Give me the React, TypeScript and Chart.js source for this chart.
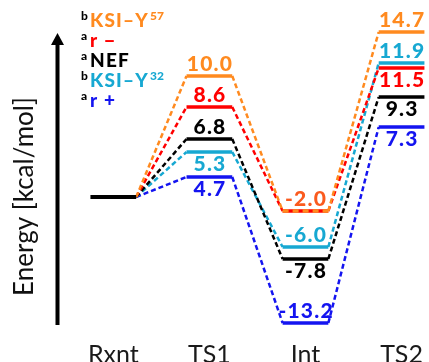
import React, { useEffect, useRef } from "react";
import { Chart, registerables } from "chart.js";

Chart.register(...registerables);

// ---- data ----
const states = ["Rxnt", "TS1", "Int", "TS2"];

const legendNames = ["KSI–Y", "r −", "NEF", "KSI–Y", "r +"];
const legendSupAfter = ["57", "", "", "32", ""];
const legendNote = ["b", "a", "a", "b", "a"];
const seriesColors = ["#FF8A1F", "#FF0000", "#000000", "#17A8D2", "#1414F0"];

// energies (kcal/mol) at TS1, Int, TS2 (Rxnt = 0)
const energyKsiY57 = [10.0, -2.0, 14.7];
const energyRMinus = [8.6, -2.0, 11.5];
const energyNef = [6.8, -7.8, 9.3];
const energyKsiY32 = [5.3, -6.0, 11.9];
const energyRPlus = [4.7, -13.2, 7.3];

// drawn level heights (schematic diagram units, Rxnt = 0)
const levelKsiY57 = [121, -14, 165];
const levelRMinus = [90, -14, 129];
const levelNef = [58, -62, 100];
const levelKsiY32 = [45, -50, 134];
const levelRPlus = [20, -126, 70];

// where each value label sits relative to its level
const sideKsiY57 = ["above", "above", "above"];
const sideRMinus = ["above", "none", "below"];
const sideNef = ["above", "below", "below"];
const sideKsiY32 = ["below", "above", "above"];
const sideRPlus = ["below", "above", "below"];

const axisTitle = "Energy [kcal/mol]";
const sharedLabelColor = "#FA5A1E";

const energies = [energyKsiY57, energyRMinus, energyNef, energyKsiY32, energyRPlus];
const levels = [levelKsiY57, levelRMinus, levelNef, levelKsiY32, levelRPlus];
const sides = [sideKsiY57, sideRMinus, sideNef, sideKsiY32, sideRPlus];

const HALF = 0.238;

function seriesPoints(lv: number[]) {
  const pts: { x: number; y: number }[] = [{ x: HALF, y: 0 }];
  lv.forEach((v, j) => {
    pts.push({ x: j + 1 - HALF, y: v });
    pts.push({ x: j + 1 + HALF, y: v });
  });
  return pts;
}

function sharesLevelBelow(si: number, j: number) {
  for (let t = si + 1; t < levels.length; t++) {
    if (levels[t][j] === levels[si][j]) return true;
  }
  return false;
}

const overlayPlugin = {
  id: "overlay",
  afterDraw(chart: any) {
    const ctx: any = chart.ctx;
    const xs = chart.scales.x;
    const ys = chart.scales.y;
    ctx.save();

    // value labels
    const ls = 1.2;
    ctx.font = "900 21px Lato";
    ctx.letterSpacing = ls + "px";
    ctx.textAlign = "center";
    ctx.textBaseline = "alphabetic";
    energies.forEach((en, si) => {
      en.forEach((e, j) => {
        const side = sides[si][j];
        if (side === "none") return;
        const px = xs.getPixelForValue(j + 1) + ls / 2;
        const py = ys.getPixelForValue(levels[si][j]);
        const y = side === "above" ? py - 5 : py + 19;
        const shared = energies.some((o, t) => t !== si && o[j] === e);
        ctx.fillStyle = shared ? sharedLabelColor : seriesColors[si];
        ctx.fillText(e.toFixed(1), px, y);
      });
    });
    ctx.letterSpacing = "0px";

    // axis arrow
    const ax = 57.5;
    const yTop = 33;
    const yBot = 325;
    ctx.fillStyle = "#000";
    ctx.fillRect(ax - 2, yTop + 10, 4, yBot - yTop - 10);
    ctx.beginPath();
    ctx.moveTo(ax, yTop);
    ctx.lineTo(ax - 6.5, yTop + 12);
    ctx.lineTo(ax + 6.5, yTop + 12);
    ctx.closePath();
    ctx.fill();

    // axis title
    ctx.save();
    ctx.translate(33, 196.5);
    ctx.rotate(-Math.PI / 2);
    ctx.font = "26px Lato";
    ctx.fillStyle = "#111";
    ctx.textAlign = "center";
    ctx.textBaseline = "alphabetic";
    ctx.fillText(axisTitle, 0, 0);
    ctx.restore();

    // legend
    ctx.textAlign = "left";
    const baseX = 90;
    legendNames.forEach((name, i) => {
      const by = 27 + i * 20;
      ctx.font = "900 12px Lato";
      ctx.fillStyle = "#000";
      ctx.fillText(legendNote[i], 81, by - 7);
      ctx.font = "900 19px Lato";
      ctx.letterSpacing = "1.2px";
      ctx.fillStyle = seriesColors[i];
      ctx.fillText(name, baseX, by);
      const w = ctx.measureText(name).width;
      ctx.letterSpacing = "0px";
      if (legendSupAfter[i]) {
        ctx.font = "900 12px Lato";
        ctx.fillText(legendSupAfter[i], baseX + w + 1, by - 7);
      }
    });

    ctx.restore();
  },
};

export default function App() {
  const ref = useRef<HTMLCanvasElement | null>(null);

  useEffect(() => {
    document.body.style.margin = "0";
    if (!ref.current) return;

    const datasets: any[] = [
      {
        label: "Rxnt",
        data: [
          { x: -HALF, y: 0 },
          { x: HALF, y: 0 },
        ],
        borderColor: "#000",
        borderWidth: 4,
        pointRadius: 0,
        borderCapStyle: "butt",
        clip: false,
      },
    ];

    levels.forEach((lv, si) => {
      datasets.push({
        label: legendNames[si] + legendSupAfter[si],
        data: seriesPoints(lv),
        borderColor: seriesColors[si],
        borderWidth: 3.5,
        pointRadius: 0,
        borderCapStyle: "butt",
        clip: false,
        segment: {
          borderDash: (c: any) => {
            if (c.p0DataIndex % 2 === 0) return [5, 3];
            const j = (c.p0DataIndex - 1) / 2;
            return sharesLevelBelow(si, j) ? [6, 4] : [];
          },
          borderWidth: (c: any) => (c.p0DataIndex % 2 === 0 ? 2.5 : 3.5),
        },
      });
    });

    const chart = new Chart(ref.current, {
      type: "line",
      data: { datasets },
      options: {
        responsive: false,
        animation: false,
        events: [],
        layout: { padding: { left: 57, right: 1, top: 0, bottom: 0 } },
        plugins: { legend: { display: false }, tooltip: { enabled: false } },
        scales: {
          x: {
            type: "linear",
            min: -0.586,
            max: 3.247,
            afterBuildTicks: (axis: any) => {
              axis.ticks = states.map((_, i) => ({ value: i }));
            },
            afterFit: (axis: any) => {
              axis.height = 28;
            },
            grid: { display: false, drawTicks: false },
            border: { display: false },
            ticks: {
              autoSkip: false,
              maxRotation: 0,
              padding: 6,
              color: "#1a1a1a",
              font: { family: "Lato", size: 25 },
              callback: (v: any) => states[v] ?? "",
            },
          },
          y: {
            type: "linear",
            display: false,
            min: -137,
            max: 197,
          },
        },
      },
      plugins: [overlayPlugin],
    });

    return () => chart.destroy();
  }, []);

  return (
    <div style={{ width: 429, height: 362 }}>
      <canvas ref={ref} width={429} height={362} />
    </div>
  );
}
